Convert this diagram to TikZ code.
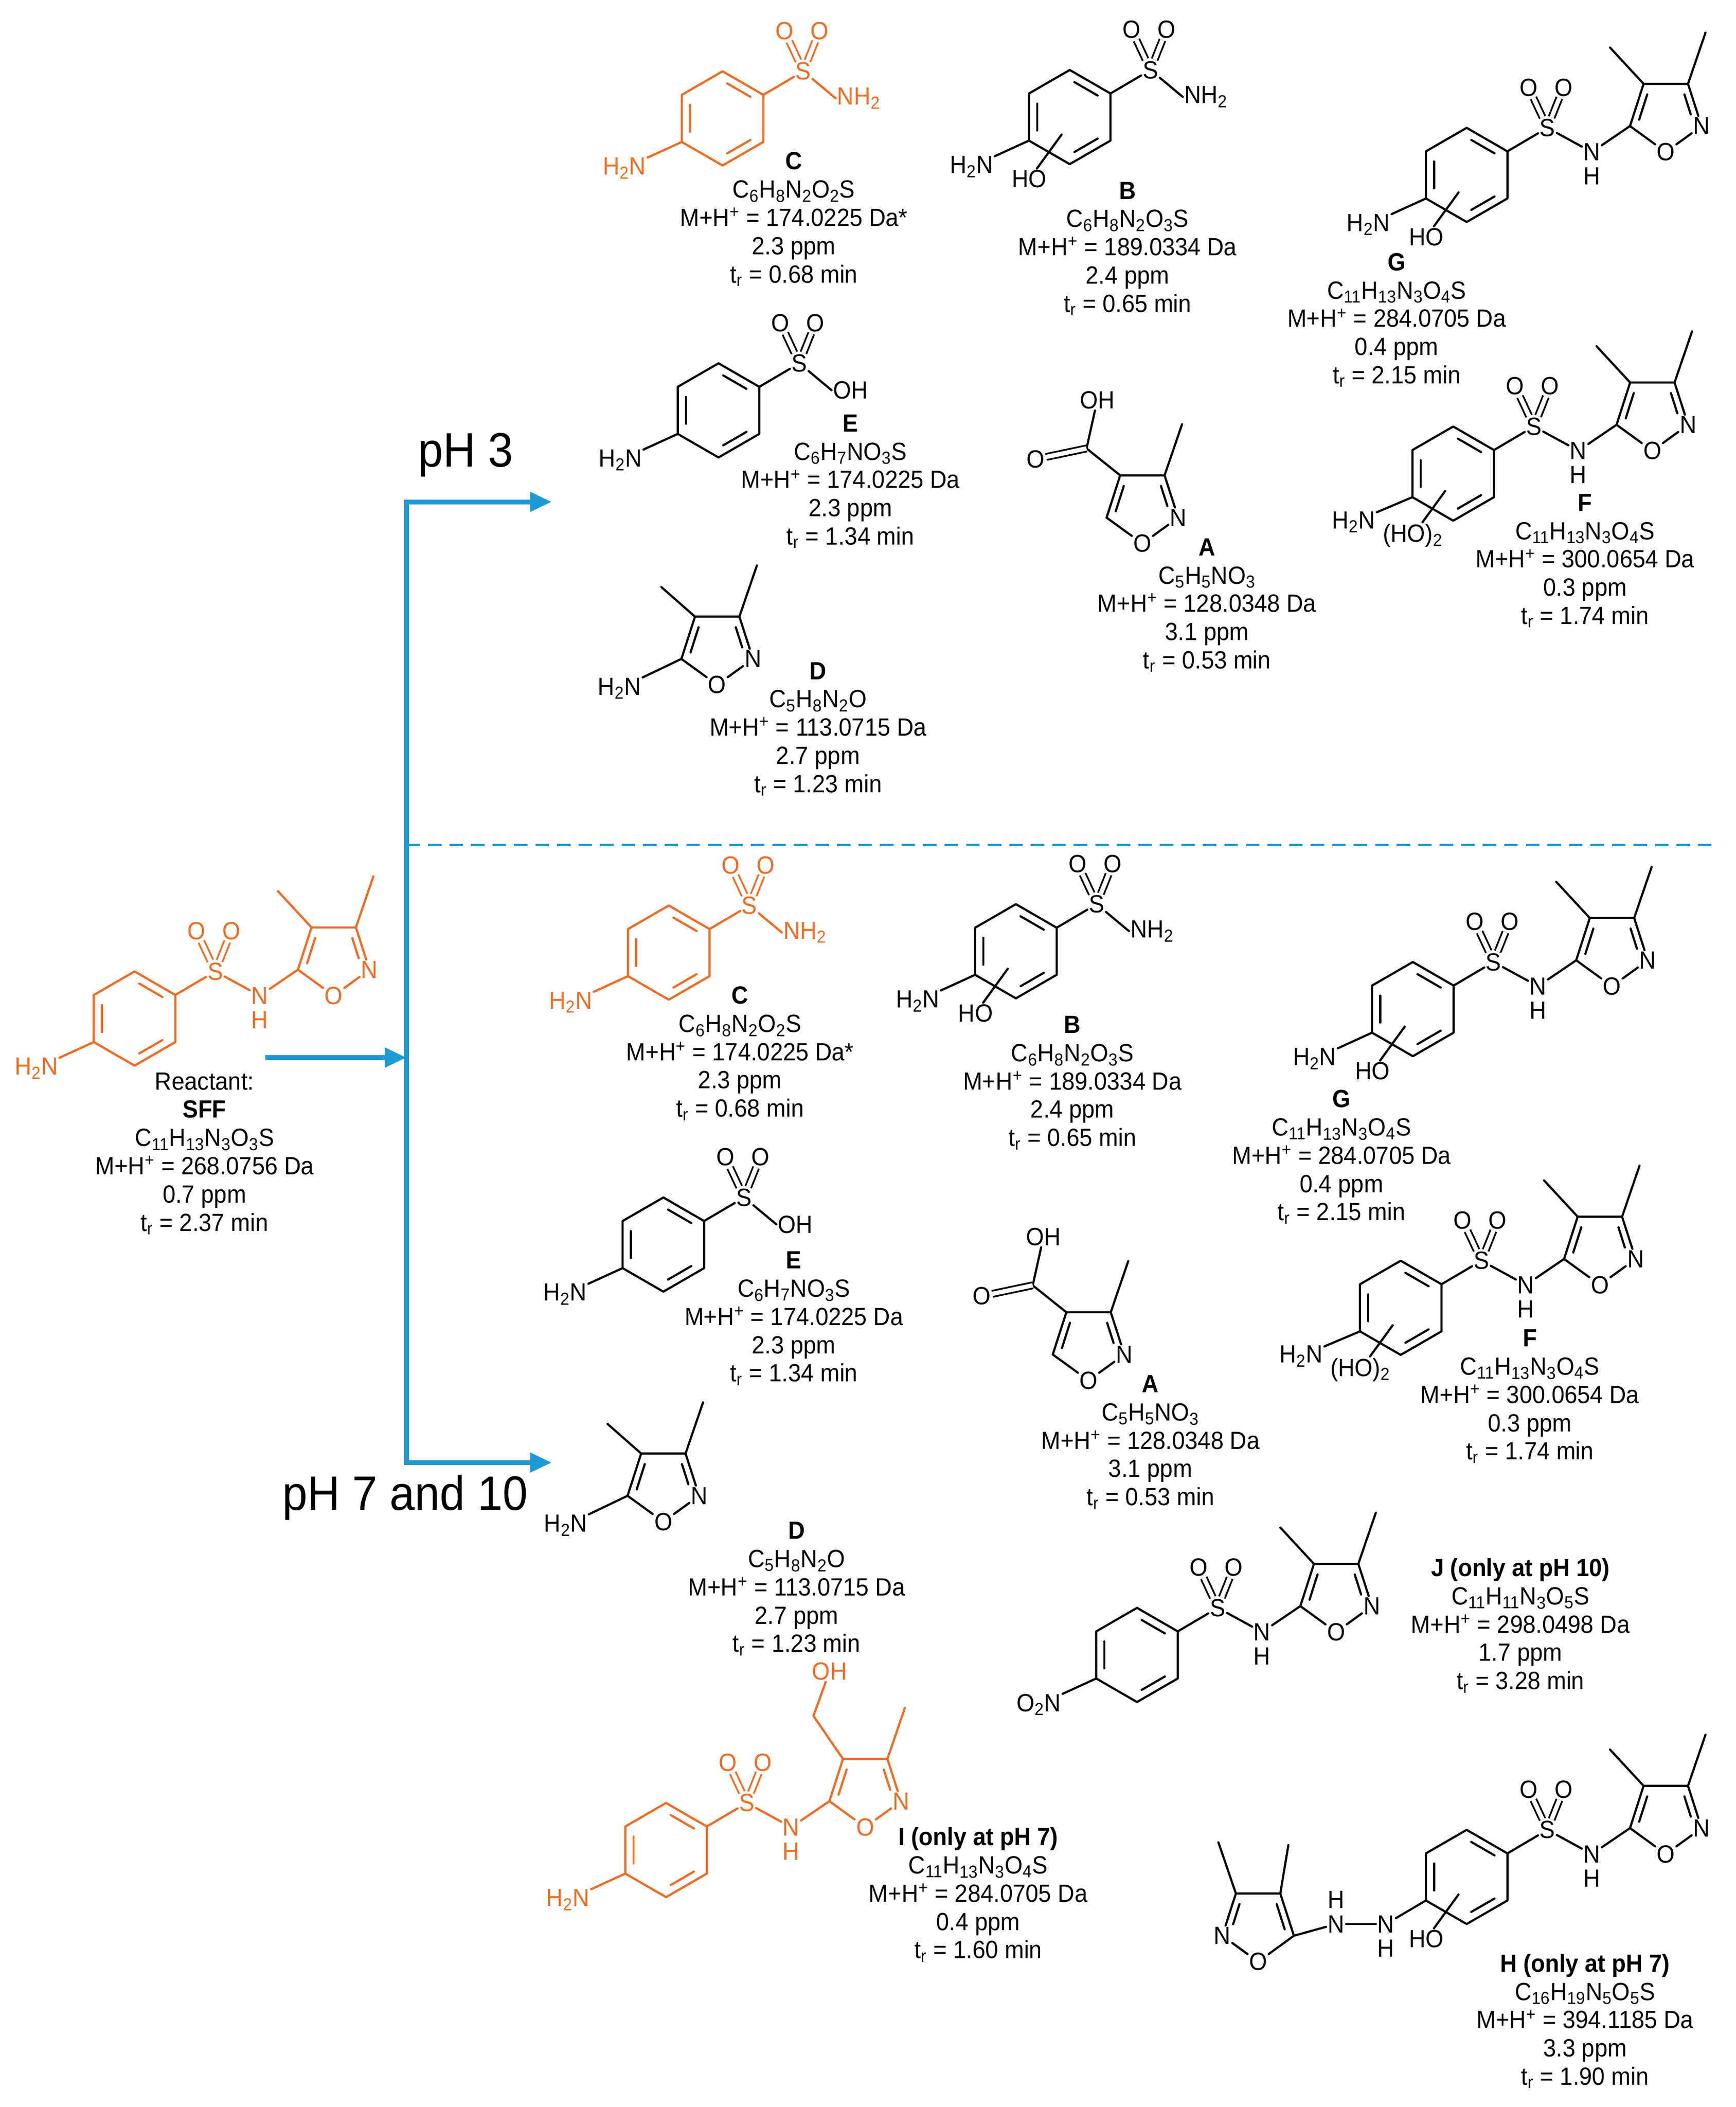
\documentclass[tikz,border=0pt]{standalone}
\usepackage{fontspec}
\setmainfont{Liberation Sans}[FakeStretch=0.93]
\usetikzlibrary{arrows.meta}
\definecolor{orgc}{HTML}{F26B21}
\definecolor{bluec}{HTML}{1B9AD6}
\newcommand\lab{\fontsize{18.5}{21}\selectfont}
\newcommand\sbs[1]{\textsubscript{#1}}
\tikzset{
 bond/.style={line width=1.6pt,line cap=round,line join=round},
 dbl/.style={double,double distance=3.2pt,line width=1.3pt},
 atom/.style={inner sep=1pt,font=\lab},
 info/.style={align=center,font=\lab,anchor=north,inner sep=0pt},
 flow/.style={bluec,line width=3.5pt},
 flowa/.style={bluec,line width=3.5pt,-{Triangle[length=16pt,width=14pt]}},
}
\newcommand\benz[2]{\begin{scope}[shift={(#2)}]
\coordinate (#1v1) at (30.3,-17.5);\coordinate (#1v2) at (0,-35);\coordinate (#1v3) at (-30.3,-17.5);
\coordinate (#1v4) at (-30.3,17.5);\coordinate (#1v5) at (0,35);\coordinate (#1v6) at (30.3,17.5);
\draw[bond] (#1v1)--(#1v2)--(#1v3)--(#1v4)--(#1v5)--(#1v6)--cycle;
\draw[bond,shorten <=4pt,shorten >=4pt] (24.2,-14)--(0,-28);
\draw[bond,shorten <=4pt,shorten >=4pt] (-24.2,-14)--(-24.2,14);
\draw[bond,shorten <=4pt,shorten >=4pt] (0,28)--(24.2,14);
\end{scope}}
\newcommand\sulf[2]{\begin{scope}[shift={(#2)}]
\node[atom](#1S) at (0,0){S};
\node[atom](#1Oa) at (-14,-30){O};
\node[atom](#1Ob) at (12,-30){O};
\draw[dbl](#1S)--(#1Oa); \draw[dbl](#1S)--(#1Ob);
\end{scope}}
\newcommand\isox[3]{\begin{scope}[shift={(#2)},xscale=#3]
\node[atom] (#1O) at (0,28) {O};
\node[atom] (#1N) at (26.6,8.7) {N};
\coordinate (#1c5) at (-26.6,8.7);\coordinate (#1c4) at (-16.5,-22.7);\coordinate (#1c3) at (16.5,-22.7);
\draw[bond] (#1c5)--(#1O);\draw[bond] (#1O)--(#1N);\draw[bond] (#1N)--(#1c3)--(#1c4)--(#1c5);
\draw[bond,shorten <=3pt,shorten >=3pt] (-12.9,-17.7)--(-20.7,6.8);
\draw[bond,shorten <=3pt,shorten >=7pt] (12.9,-17.7)--(20.7,6.8);
\coordinate (#1m3) at (29.5,-60.7); \draw[bond] (#1c3)--(#1m3);
\end{scope}}
% sulfonamide-isoxazole
\newcommand\sfa[2]{\benz{#1}{#2}
\begin{scope}[shift={(#2)}]
\sulf{#1}{60,-35}
\node[atom](#1N) at (93,-17){N}; \node[atom] (#1H) at (93,1){H};
\isox{#1i}{148,-45}{1}
\end{scope}
\draw[bond](#1v1)--(#1S);\draw[bond](#1S)--(#1N);\draw[bond](#1N)--(#1ic5);
\coordinate (#1m4) at ([shift={(-25,-27)}]#1ic4);\draw[bond](#1ic4)--(#1m4);}
% benzene + SO2X terminus
\newcommand\sterm[3]{\benz{#1}{#2}
\begin{scope}[shift={(#2)}]
\sulf{#1}{60,-35}
\node[atom,anchor=west](#1T) at (84,-15){#3};
\end{scope}
\draw[bond](#1v1)--(#1S);\draw[bond](#1S)--(#1T.west);}
\newcommand\lsub[4]{\begin{scope}[shift={(#2)}]\node[atom](#1L) at (#4){#3};\end{scope}\draw[bond](#1v4)--(#1L);}
\newcommand\hydx[3]{\begin{scope}[shift={(#2)}]\node[atom](#1HO) at (-30,46){#3};\coordinate(#1hx) at (-6,13);\end{scope}\draw[bond](#1HO)--(#1hx);}
% dimethylisoxazolamine D
\newcommand\dmol[2]{\isox{#1i}{#2}{1}
\coordinate (#1m4) at ([shift={(-25,-22)}]#1ic4);\draw[bond](#1ic4)--(#1m4);
\node[atom](#1L) at ([shift={(-46,22)}]#1ic5){H\sbs{2}N};\draw[bond](#1ic5)--(#1L);}
% acid A
\newcommand\amol[2]{\isox{#1i}{#2}{1}
\coordinate (#1cc) at ([shift={(-25,-20)}]#1ic4);\draw[bond](#1ic4)--(#1cc);
\node[atom](#1OH) at ([shift={(8,-36)}]#1cc){OH};\draw[bond](#1cc)--(#1OH);
\node[atom](#1Od) at ([shift={(-38,8)}]#1cc){O};\draw[dbl](#1cc)--(#1Od);}
\begin{document}
\begin{tikzpicture}[x=1pt,y=-1pt]
\useasboundingbox (0,0) rectangle (1290,1566);
\fill[white] (0,0) rectangle (1290,1566);
% ---------- arrows
\coordinate (jt) at (302,373);\coordinate (jb) at (302,1087);\coordinate (jm) at (302,786);
\coordinate (rs) at (197,786);\coordinate (at) at (410,373);\coordinate (ab) at (410,1087);
\coordinate (ds) at (302,628);\coordinate (de) at (1275,628);
\draw[flow] (jt)--(jb);
\draw[flowa] ([xshift=-1.75pt]jt)--(at);
\draw[flowa] ([xshift=-1.75pt]jb)--(ab);
\draw[flowa] (rs)--(jm);
\draw[bluec,line width=2pt,dash pattern=on 10pt off 6pt] (ds)--(de);
\node[font=\fontsize{36}{40}\selectfont] (ph3) at (346,338) {pH 3};
\node[font=\fontsize{36}{40}\selectfont] (ph7) at (301,1113) {pH 7 and 10};
% ---------- reactant SFF
\begin{scope}[orgc]
\sfa{R}{100,757}\lsub{R}{100,757}{H\sbs{2}N}{-73,37}
\end{scope}
\node[info] (Rt) at (152,797) {Reactant:\\\textbf{SFF}\\C\sbs{11}H\sbs{13}N\sbs{3}O\sbs{3}S\\M+H\textsuperscript{+} = 268.0756 Da\\0.7 ppm\\t\sbs{r} = 2.37 min};
% ================= TOP PANEL
\begin{scope}[orgc]
\sterm{Ct}{537,88}{NH\sbs{2}}\lsub{Ct}{537,88}{H\sbs{2}N}{-73,37}
\end{scope}
\node[info] (Cti) at (590,113) {\textbf{C}\\C\sbs{6}H\sbs{8}N\sbs{2}O\sbs{2}S\\M+H\textsuperscript{+} = 174.0225 Da*\\2.3 ppm\\t\sbs{r} = 0.68 min};
\sterm{Bt}{795,87}{NH\sbs{2}}\lsub{Bt}{795,87}{H\sbs{2}N}{-73,37}\hydx{Bt}{795,87}{HO}
\node[info] (Bti) at (838,135) {\textbf{B}\\C\sbs{6}H\sbs{8}N\sbs{2}O\sbs{3}S\\M+H\textsuperscript{+} = 189.0334 Da\\2.4 ppm\\t\sbs{r} = 0.65 min};
\sfa{Gt}{1090,130}\lsub{Gt}{1090,130}{H\sbs{2}N}{-73,37}\hydx{Gt}{1090,130}{HO}
\node[info] (Gti) at (1038,188) {\textbf{G}\\C\sbs{11}H\sbs{13}N\sbs{3}O\sbs{4}S\\M+H\textsuperscript{+} = 284.0705 Da\\0.4 ppm\\t\sbs{r} = 2.15 min};
\sterm{Et}{534,305}{OH}\lsub{Et}{534,305}{H\sbs{2}N}{-73,37}
\node[info] (Eti) at (632,308) {\textbf{E}\\C\sbs{6}H\sbs{7}NO\sbs{3}S\\M+H\textsuperscript{+} = 174.0225 Da\\2.3 ppm\\t\sbs{r} = 1.34 min};
\amol{At}{849,376}
\node[info] (Ati) at (897,400) {\textbf{A}\\C\sbs{5}H\sbs{5}NO\sbs{3}\\M+H\textsuperscript{+} = 128.0348 Da\\3.1 ppm\\t\sbs{r} = 0.53 min};
\sfa{Ft}{1080,352}\lsub{Ft}{1080,352}{H\sbs{2}N}{-74,36}\hydx{Ft}{1080,352}{(HO)\sbs{2}}
\node[info] (Fti) at (1178,367) {\textbf{F}\\C\sbs{11}H\sbs{13}N\sbs{3}O\sbs{4}S\\M+H\textsuperscript{+} = 300.0654 Da\\0.3 ppm\\t\sbs{r} = 1.74 min};
\dmol{Dt}{533,481}
\node[info] (Dti) at (608,492) {\textbf{D}\\C\sbs{5}H\sbs{8}N\sbs{2}O\\M+H\textsuperscript{+} = 113.0715 Da\\2.7 ppm\\t\sbs{r} = 1.23 min};
% ================= BOTTOM PANEL
\begin{scope}[orgc]
\sterm{Cb}{497,708}{NH\sbs{2}}\lsub{Cb}{497,708}{H\sbs{2}N}{-73,37}
\end{scope}
\node[info] (Cbi) at (550,733) {\textbf{C}\\C\sbs{6}H\sbs{8}N\sbs{2}O\sbs{2}S\\M+H\textsuperscript{+} = 174.0225 Da*\\2.3 ppm\\t\sbs{r} = 0.68 min};
\sterm{Bb}{755,707}{NH\sbs{2}}\lsub{Bb}{755,707}{H\sbs{2}N}{-73,37}\hydx{Bb}{755,707}{HO}
\node[info] (Bbi) at (797,755) {\textbf{B}\\C\sbs{6}H\sbs{8}N\sbs{2}O\sbs{3}S\\M+H\textsuperscript{+} = 189.0334 Da\\2.4 ppm\\t\sbs{r} = 0.65 min};
\sfa{Gb}{1050,750}\lsub{Gb}{1050,750}{H\sbs{2}N}{-73,37}\hydx{Gb}{1050,750}{HO}
\node[info] (Gbi) at (997,810) {\textbf{G}\\C\sbs{11}H\sbs{13}N\sbs{3}O\sbs{4}S\\M+H\textsuperscript{+} = 284.0705 Da\\0.4 ppm\\t\sbs{r} = 2.15 min};
\sterm{Eb}{493,925}{OH}\lsub{Eb}{493,925}{H\sbs{2}N}{-73,37}
\node[info] (Ebi) at (590,930) {\textbf{E}\\C\sbs{6}H\sbs{7}NO\sbs{3}S\\M+H\textsuperscript{+} = 174.0225 Da\\2.3 ppm\\t\sbs{r} = 1.34 min};
\amol{Ab}{809,998}
\node[info] (Abi) at (855,1022) {\textbf{A}\\C\sbs{5}H\sbs{5}NO\sbs{3}\\M+H\textsuperscript{+} = 128.0348 Da\\3.1 ppm\\t\sbs{r} = 0.53 min};
\sfa{Fb}{1041,972}\lsub{Fb}{1041,972}{H\sbs{2}N}{-74,36}\hydx{Fb}{1041,972}{(HO)\sbs{2}}
\node[info] (Fbi) at (1137,988) {\textbf{F}\\C\sbs{11}H\sbs{13}N\sbs{3}O\sbs{4}S\\M+H\textsuperscript{+} = 300.0654 Da\\0.3 ppm\\t\sbs{r} = 1.74 min};
\dmol{Db}{493,1103}
\node[info] (Dbi) at (592,1131) {\textbf{D}\\C\sbs{5}H\sbs{8}N\sbs{2}O\\M+H\textsuperscript{+} = 113.0715 Da\\2.7 ppm\\t\sbs{r} = 1.23 min};
% J
\sfa{J}{845,1230}\lsub{J}{845,1230}{O\sbs{2}N}{-73,37}
\node[info] (Ji) at (1130,1158) {\textbf{J (only at pH 10)}\\C\sbs{11}H\sbs{11}N\sbs{3}O\sbs{5}S\\M+H\textsuperscript{+} = 298.0498 Da\\1.7 ppm\\t\sbs{r} = 3.28 min};
% I
\begin{scope}[orgc]
\benz{I}{495,1375}
\begin{scope}[shift={(495,1375)}]
\sulf{I}{60,-35}
\node[atom](IN) at (93,-17){N}; \node[atom] (IH) at (93,1){H};
\isox{Ii}{148,-45}{1}
\node[atom](IL) at (-73,37){H\sbs{2}N};
\end{scope}
\draw[bond](Iv1)--(IS);\draw[bond](IS)--(IN);\draw[bond](IN)--(Iic5);\draw[bond](Iv4)--(IL);
\coordinate (Ich) at ([shift={(-22,-32)}]Iic4);
\node[atom] (IOH) at ([shift={(12,-33)}]Ich){OH};
\draw[bond](Iic4)--(Ich)--(IOH);
\end{scope}
\node[info] (Ii) at (727,1358) {\textbf{I (only at pH 7)}\\C\sbs{11}H\sbs{13}N\sbs{3}O\sbs{4}S\\M+H\textsuperscript{+} = 284.0705 Da\\0.4 ppm\\t\sbs{r} = 1.60 min};
% H
\sfa{Hm}{1090,1395}\hydx{Hm}{1090,1395}{HO}
\node[atom] (HN2) at (1030,1430) {N};\node[atom] (HH2) at (1030,1448) {H};
\node[atom] (HN1) at (993,1430) {N};\node[atom] (HH1) at (993,1412) {H};
\draw[bond](Hmv4)--(HN2);\draw[bond](HN2)--(HN1);
\isox{Hl}{935,1430}{-1}
\draw[bond](HN1)--(Hlc5);
\coordinate (Hlm4) at ([shift={(6,-36)}]Hlc4);\draw[bond](Hlc4)--(Hlm4);
\node[info] (Hi) at (1178,1452) {\textbf{H (only at pH 7)}\\C\sbs{16}H\sbs{19}N\sbs{5}O\sbs{5}S\\M+H\textsuperscript{+} = 394.1185 Da\\3.3 ppm\\t\sbs{r} = 1.90 min};
\end{tikzpicture}
\end{document}
